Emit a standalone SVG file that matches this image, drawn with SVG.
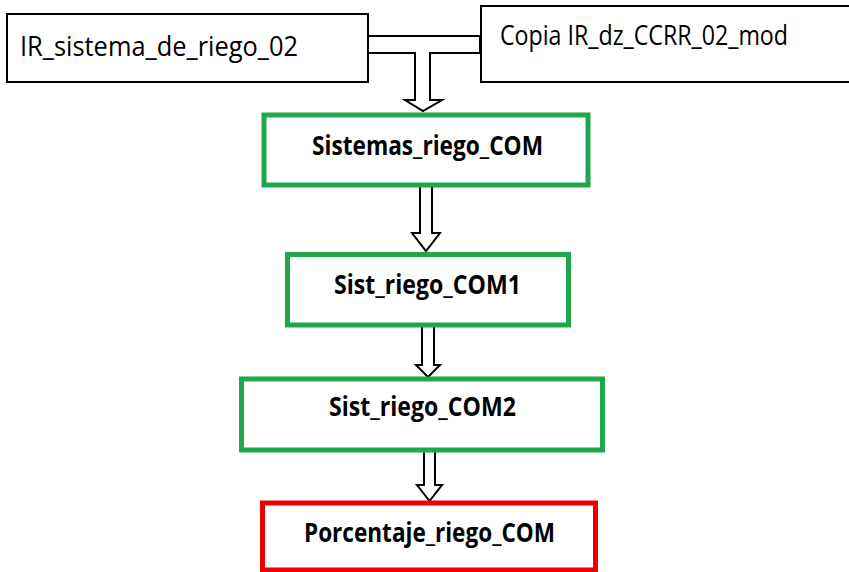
<svg xmlns="http://www.w3.org/2000/svg" width="849" height="572" viewBox="0 0 849 572">
<style>
.src{fill:#fff;stroke:#000;stroke-width:2}
.proc{fill:#fff;stroke:#1fa84a;stroke-width:5}
.out{fill:#fff;stroke:#ee0000;stroke-width:5}
.arrow{fill:#fff;stroke:#000;stroke-width:2;stroke-linejoin:miter}
.t1{font-family:"Liberation Sans Narrow","Open Sans","Liberation Sans",sans-serif;font-size:27px;fill:#000}
.t2{font-family:"Liberation Sans Narrow","Open Sans","Liberation Sans",sans-serif;font-size:26px;font-weight:bold;fill:#000}
</style>
<rect width="849" height="572" fill="#fff"/>
<g id="connectors">
<path class="arrow" d="M366,36 H480 V53 H430 V100 H442 L423,111 L405,100 H415 V53 H366 Z"/>
<path class="arrow" d="M420,185 H432 V233 H440 L426,251 L412,233 H420 Z"/>
<path class="arrow" d="M422,326 H434 V365 H440 L428,377 L416,365 H422 Z"/>
<path class="arrow" d="M424,451 H435 V485 H442 L429.5,501 L417,485 H424 Z"/>
</g>
<g id="ir_sistema">
<rect class="src" x="7" y="14" width="361" height="68"/>
<text class="t1" x="20" y="56" textLength="278" lengthAdjust="spacingAndGlyphs">IR_sistema_de_riego_02</text>
</g>
<g id="copia_ir">
<rect class="src" x="481" y="6" width="372" height="76"/>
<text class="t1" x="500" y="45" textLength="288" lengthAdjust="spacingAndGlyphs">Copia IR_dz_CCRR_02_mod</text>
</g>
<g id="sistemas_riego_com">
<rect class="proc" x="264" y="115" width="324" height="70"/>
<text class="t2" x="312" y="155" textLength="231" lengthAdjust="spacingAndGlyphs">Sistemas_riego_COM</text>
</g>
<g id="sist_riego_com1">
<rect class="proc" x="287.5" y="254.5" width="281" height="70.5"/>
<text class="t2" x="334" y="294" textLength="187" lengthAdjust="spacingAndGlyphs">Sist_riego_COM1</text>
</g>
<g id="sist_riego_com2">
<rect class="proc" x="241.5" y="379" width="361" height="71"/>
<text class="t2" x="329" y="416" textLength="187" lengthAdjust="spacingAndGlyphs">Sist_riego_COM2</text>
</g>
<g id="porcentaje_riego_com">
<rect class="out" x="262.5" y="503" width="333" height="67"/>
<text class="t2" x="304" y="542" textLength="251" lengthAdjust="spacingAndGlyphs">Porcentaje_riego_COM</text>
</g>
</svg>
